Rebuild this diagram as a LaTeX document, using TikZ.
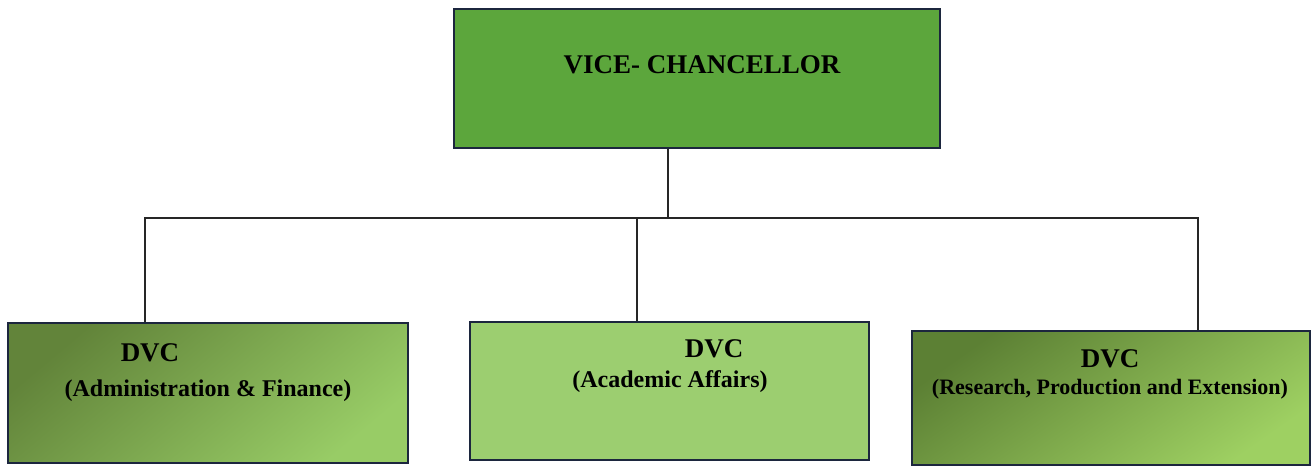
\documentclass[tikz,border=0pt]{standalone}
\usepackage{fontspec}
\setmainfont{Liberation Serif}
\usepackage{xcolor}
\usepackage{tikz}

\definecolor{boxline}{RGB}{28,38,62}
\definecolor{vcgreen}{RGB}{92,166,60}
\definecolor{admdark}{RGB}{98,132,58}
\definecolor{admlight}{RGB}{152,204,102}
\definecolor{acagreen}{RGB}{156,206,112}
\definecolor{rpedark}{RGB}{92,128,52}
\definecolor{rpelight}{RGB}{158,208,98}

\tikzset{
    unitbox/.style={draw=boxline, line width=1.6pt, rectangle, inner sep=0pt},
    title/.style={font=\fontsize{27}{30}\selectfont\bfseries, anchor=base, inner sep=0pt},
    subtitle/.style={font=\fontsize{24}{28}\selectfont\bfseries, anchor=base, inner sep=0pt},
    link/.style={draw=black!85, line width=1.1pt}
}

\begin{document}
\begin{tikzpicture}[x=1pt, y=1pt, node distance=314.5pt]
    \useasboundingbox (0,0) rectangle (1313,-467);

    % Vice-Chancellor
    \node[unitbox, fill=vcgreen, minimum width=486pt, minimum height=139pt] (vc) at (697,-78.5) {};
    \node[title] (vctext) at ([xshift=5pt, yshift=-65pt]vc.north) {VICE- CHANCELLOR};

    % Deputies
    \node[unitbox, top color=admdark, bottom color=admlight, shading angle=40, minimum width=400pt, minimum height=140pt, below of=vc, xshift=-489pt] (adm) {};
    \node[unitbox, fill=acagreen, minimum width=399pt, minimum height=138pt, below of=vc, xshift=-27.5pt, yshift=2pt] (aca) {};
    \node[unitbox, top color=rpedark, bottom color=rpelight, shading angle=35, minimum width=398pt, minimum height=134pt, below of=vc, xshift=414pt, yshift=-5pt] (rpe) {};

    % Labels
    \node[title] (admtitle) at ([xshift=-58pt, yshift=-39pt]adm.north) {DVC};
    \node[subtitle] (admsub) at ([yshift=-74pt]adm.north) {(Administration \& Finance)};
    \node[title] (acatitle) at ([xshift=44.5pt, yshift=-36pt]aca.north) {DVC};
    \node[subtitle] (acasub) at ([xshift=0.5pt, yshift=-66pt]aca.north) {(Academic Affairs)};
    \node[title] (rpetitle) at ([xshift=-1pt, yshift=-37pt]rpe.north) {DVC};
    \node[subtitle, font=\fontsize{22}{26}\selectfont\bfseries] (rpesub) at ([xshift=-1pt, yshift=-64pt]rpe.north) {(Research, Production and Extension)};

    % Edges
    \coordinate (hub) at (668,-218);
    \coordinate (vcfoot) at ([xshift=-29pt]vc.south);
    \coordinate (admtop) at ([xshift=-63pt]adm.north);
    \coordinate (acatop) at ([xshift=-32.5pt]aca.north);
    \coordinate (rpetop) at ([xshift=87pt]rpe.north);
    \draw[link] (vcfoot) -- (hub);
    \draw[link] (admtop) |- (hub) -| (rpetop);
    \draw[link] (acatop) -- (acatop |- hub);
\end{tikzpicture}
\end{document}
